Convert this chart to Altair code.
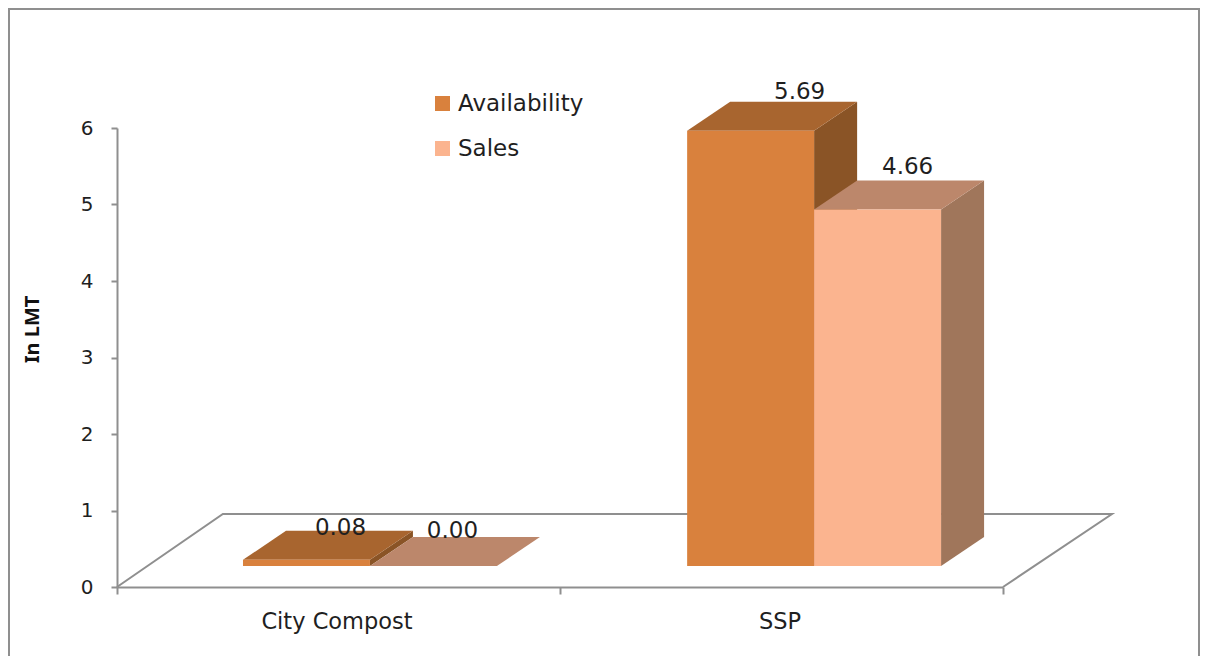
import altair as alt
import pandas as pd

# ---- values ----
categories = ["City Compost", "SSP"]
availability = [0.08, 5.69]
sales = [0.00, 4.66]
series_names = ["Availability", "Sales"]
y_ticks = [0, 1, 2, 3, 4, 5, 6]

FONT = "DejaVu Sans"
FONT2 = "Noto Sans"
TXT = "#1f1f1f"
GREY = "#8f8f8f"
front = {"Availability": "#D9813D", "Sales": "#FBB48F"}
top = {"Availability": "#A8652F", "Sales": "#BC876B"}
side = {"Availability": "#8A5426", "Sales": "#A0765B"}

# chart geometry in data units (x: one category = 1, y: axis units)
PW, PH = 886, 459
BAR_W = 0.2866
DX, DY = 0.0971, 0.379
BASE = 0.275
GROUP_START = [0.2844, 1.287]

XS = alt.Scale(domain=[0, 2], range=[0, PW], nice=False, zero=False)
YS = alt.Scale(domain=[0, 6], nice=False, zero=True)
YAX = alt.Axis(values=y_ticks, format="d", title="In LMT", grid=False, domainColor=GREY, domainWidth=2,
               tickColor=GREY, tickWidth=2, tickSize=6, labelFont=FONT, labelFontSize=20, labelColor=TXT,
               labelPadding=18, titleFont=FONT2, titleFontSize=20, titleFontWeight="bold", titleColor="#111111",
               titleX=-75, titleY=201)


def X(f):
    return alt.X(f + ":Q", scale=XS, axis=None)


def Y(f):
    return alt.Y(f + ":Q", scale=YS, axis=YAX, stack=None)


rows_front, rows_side, rows_top, rows_label = [], [], [], []
for g, cat in enumerate(categories):
    for s, (name, vals) in enumerate(zip(series_names, [availability, sales])):
        x0 = GROUP_START[g] + s * BAR_W
        x1 = x0 + BAR_W
        t = BASE + vals[g]
        key = f"{cat}-{name}"
        rows_front.append({"x": x0, "x2": x1, "y": t, "y2": BASE, "series": name})
        rows_side += [
            {"bar": key, "series": name, "x": x1, "y": t, "y2": BASE},
            {"bar": key, "series": name, "x": x1 + DX, "y": t + DY, "y2": BASE + DY},
        ]
        rows_top += [
            {"bar": key, "series": name, "y": t, "x": x0, "x2": x1},
            {"bar": key, "series": name, "y": t + DY, "x": x0 + DX, "x2": x1 + DX},
        ]
        rows_label.append({"x": (x0 + x1) / 2 + DX, "y": t + DY, "v": vals[g]})

df_front, df_side, df_top = map(pd.DataFrame, (rows_front, rows_side, rows_top))

floor = pd.DataFrame({"x": [0, 0.239, 2.246, 2.0], "y": [0, 0.954, 0.954, 0], "o": [0, 1, 2, 3]})
floor_line = alt.Chart(floor).mark_line(color=GREY, strokeWidth=2).encode(x=X("x"), y=Y("y"), order="o:Q")

cat_axis = alt.Chart(pd.DataFrame({"cat": categories, "y": [0, 0]})).mark_point(opacity=0).encode(
    x=alt.X("cat:N", sort=categories,
            scale=alt.Scale(type="band", domain=categories, paddingInner=0, paddingOuter=0, range=[0, PW]),
            axis=alt.Axis(title=None, labelAngle=0, tickBand="extent", domainColor=GREY, domainWidth=2,
                          tickColor=GREY, tickWidth=2, tickSize=7, labelFont=FONT, labelFontSize=22.5,
                          labelColor=TXT, labelPadding=16, labelOffset=-2, grid=False)),
    y=Y("y"))


def faces(name):
    s = alt.Chart(df_side[df_side.series == name]).mark_area(color=side[name]).encode(
        x=X("x"), y=Y("y"), y2="y2:Q", detail="bar:N")
    t = alt.Chart(df_top[df_top.series == name]).mark_area(color=top[name], orient="horizontal").encode(
        y=Y("y"), x=X("x"), x2="x2:Q", detail="bar:N")
    return [s, t]


bars = alt.Chart(df_front).mark_bar().encode(
    x=X("x"), x2="x2:Q", y=Y("y"), y2="y2:Q",
    color=alt.Color("series:N", sort=series_names,
                    scale=alt.Scale(domain=series_names, range=[front[n] for n in series_names]),
                    legend=alt.Legend(title=None, orient="none", legendX=314, legendY=-36, symbolType="square",
                                      symbolSize=225, symbolStrokeWidth=0, labelFont=FONT, labelFontSize=23,
                                      labelColor=TXT, rowPadding=21, labelOffset=4, symbolOpacity=1)))

labels = []
for r, (dx, dy) in zip(rows_label, [(-9, -3), (-24, -6), (6, -10), (-13, -13)]):
    labels.append(alt.Chart(pd.DataFrame([r])).mark_text(
        font=FONT, fontSize=23, color=TXT, baseline="middle", dx=dx, dy=dy).encode(
        x=X("x"), y=Y("y"), text=alt.Text("v:Q", format=".2f")))

# outer frame: top, left and right edges
frame = [
    alt.Chart(pd.DataFrame({"a": [0]})).mark_rule(color=GREY, strokeWidth=2).encode(
        x=alt.value(-108), x2=alt.value(1082), y=alt.value(-119)),
    alt.Chart(pd.DataFrame({"a": [0]})).mark_rule(color=GREY, strokeWidth=2).encode(
        x=alt.value(-108), y=alt.value(-120), y2=alt.value(528)),
    alt.Chart(pd.DataFrame({"a": [0]})).mark_rule(color=GREY, strokeWidth=2).encode(
        x=alt.value(1082), y=alt.value(-120), y2=alt.value(528)),
]

chart = alt.layer(
    *frame, floor_line, cat_axis, *faces("Availability"), *faces("Sales"), bars, *labels
).resolve_scale(x="independent").properties(
    width=PW, height=PH,
    padding={"left": 109, "top": 120, "right": 197, "bottom": 69},
    autosize=alt.AutoSizeParams(type="none"),
).configure_view(stroke=None)

chart.save("out.html", embed_options={"renderer": "svg", "actions": False})
